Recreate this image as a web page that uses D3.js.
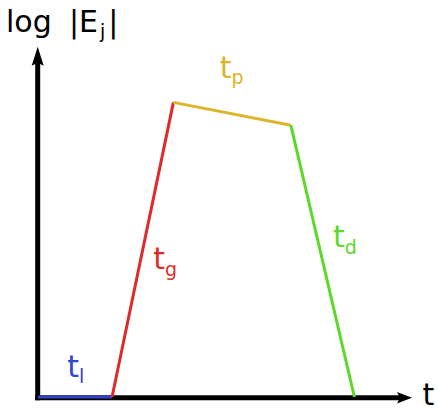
<!DOCTYPE html>
<html>
<head>
<meta charset="utf-8">
<script src="https://cdn.jsdelivr.net/npm/d3@7"></script>
<style>
  html, body { margin: 0; padding: 0; background: #fff; }
  svg { display: block; }
  text { font-family: "DejaVu Sans", Verdana, sans-serif; }
</style>
</head>
<body>
<svg id="chart" width="437" height="408"></svg>
<script>
// ---- data (phases of the curve: time vs log|E_j|) ----
const phases = ["t_l", "t_g", "t_p", "t_d"];
const phaseSub = ["l", "g", "p", "d"];
const phaseColors = ["#3344cc", "#dd2b2b", "#dbb52c", "#5cd92a"];
const phaseStartT = [0.00, 0.99, 1.81, 3.38];
const phaseEndT   = [0.99, 1.81, 3.38, 4.23];
const phaseStartY = [0.00, 0.00, 8.41, 7.76];
const phaseEndY   = [0.00, 8.41, 7.76, 0.00];
// label anchor in data units
const labelT = [0.390, 1.540, 2.430, 3.945];
const labelY = [0.58, 3.64, 9.12, 4.27];
const axisLabels = ["t", "log", "|E", "j", "|"];

const svg = d3.select("#chart");
const x = d3.scaleLinear().domain([0, 5]).range([38, 412]);
const y = d3.scaleLinear().domain([0, 10]).range([397, 46.7]);

// axes
const ax0 = x(0) - 0.3, ay0 = y(0) + 0.8;
svg.append("line").attr("x1", ax0).attr("y1", ay0 + 2.5).attr("x2", ax0).attr("y2", y(10) + 12)
  .attr("stroke", "#000").attr("stroke-width", 5);
svg.append("line").attr("x1", ax0 - 2.5).attr("y1", ay0).attr("x2", x(5) - 12).attr("y2", ay0)
  .attr("stroke", "#000").attr("stroke-width", 5);
// arrowheads
const yt = y(10);
svg.append("path")
  .attr("d", `M${ax0},${yt} L${ax0 + 6},${yt + 19} L${ax0},${yt + 16} L${ax0 - 6},${yt + 19} Z`)
  .attr("fill", "#000");
const xt = x(5);
svg.append("path")
  .attr("d", `M${xt},${ay0} L${xt - 15},${ay0 - 5.8} L${xt - 12},${ay0} L${xt - 15},${ay0 + 5.8} Z`)
  .attr("fill", "#000");

// phase segments
const line = d3.line().x(d => x(d[0])).y(d => y(d[1]));
phases.forEach((p, i) => {
  svg.append("path")
    .attr("d", line([[phaseStartT[i], phaseStartY[i]], [phaseEndT[i], phaseEndY[i]]]))
    .attr("fill", "none")
    .attr("stroke", phaseColors[i])
    .attr("stroke-width", 3)
    .attr("stroke-linecap", "butt");
});

// phase labels
phases.forEach((p, i) => {
  const t = svg.append("text")
    .attr("x", x(labelT[i]))
    .attr("y", y(labelY[i]))
    .attr("fill", phaseColors[i])
    .attr("font-size", 30);
  t.append("tspan").text("t");
  t.append("tspan").attr("dy", 6.5).attr("font-size", 19).text(phaseSub[i]);
});

// axis titles
svg.append("text").attr("x", 422.5).attr("y", 404.5).attr("font-size", 30).attr("fill", "#000").text(axisLabels[0]);
const yl = svg.append("text").attr("y", 32).attr("font-size", 30).attr("fill", "#000");
yl.append("tspan").attr("x", 6).text(axisLabels[1]);
yl.append("tspan").attr("x", 69).text(axisLabels[2]);
yl.append("tspan").attr("dx", 2).attr("dy", 6).attr("font-size", 19).text(axisLabels[3]);
yl.append("tspan").attr("dx", 3).attr("dy", -6).text(axisLabels[4]);
</script>
</body>
</html>
